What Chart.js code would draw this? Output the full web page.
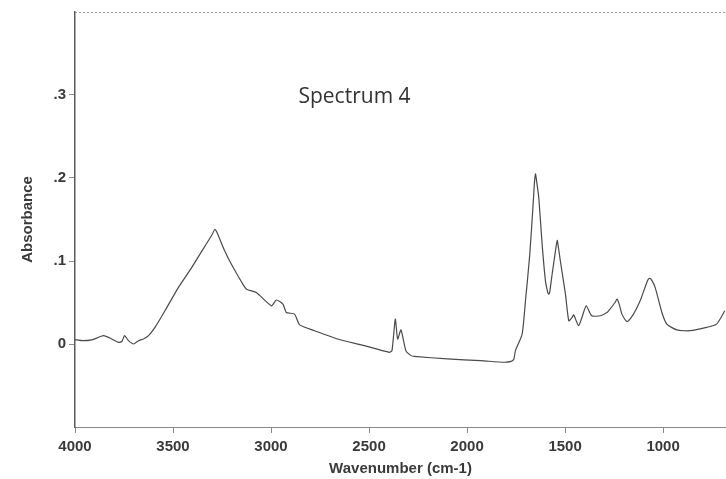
<!DOCTYPE html>
<html>
<head>
<meta charset="utf-8">
<script src="https://cdn.jsdelivr.net/npm/chart.js@4/dist/chart.umd.min.js"></script>
<style>
  html, body { margin: 0; padding: 0; background: #ffffff; overflow: hidden; }
  #wrap { width: 726px; height: 479px; }
</style>
</head>
<body>
<div id="wrap"><canvas id="c" width="726" height="479"></canvas></div>
<script>
// IR absorbance spectrum, wavenumber in cm-1
const wavenumbers = [
  4000, 3990, 3964, 3914, 3854, 3812, 3778, 3761, 3747, 3727, 3702, 3676, 3651, 3625,
  3592, 3541, 3473, 3405, 3337, 3300, 3287, 3275, 3236, 3202, 3151, 3125, 3075, 2998, 2973, 2939,
  2922, 2880, 2854, 2778, 2659, 2524, 2397, 2383, 2366, 2354, 2337, 2312, 2286, 2269,
  2100, 1930, 1812, 1775, 1761, 1753, 1719, 1702, 1680, 1662, 1656, 1651, 1645, 1634, 1617, 1600, 1588, 1583, 1578,
  1566, 1546, 1540, 1535, 1524, 1498, 1481, 1464, 1456, 1431, 1414, 1392, 1364, 1320, 1286, 1278,
  1245, 1235, 1225, 1210, 1184, 1151, 1117, 1080, 1069, 1058, 1040, 1006, 981, 930, 863, 778, 727, 685
];
const absorbance = [
  0.005, 0.005, 0.004, 0.005, 0.010, 0.006, 0.002, 0.003, 0.010, 0.004, 0.000, 0.004, 0.006, 0.010,
  0.020, 0.040, 0.068, 0.092, 0.118, 0.132, 0.138, 0.134, 0.112, 0.096, 0.075, 0.066, 0.062, 0.046, 0.053, 0.048,
  0.038, 0.036, 0.023, 0.016, 0.006, -0.002, -0.010, -0.008, 0.030, 0.006, 0.017, -0.008, -0.014, -0.015,
  -0.018, -0.020, -0.022, -0.021, -0.018, -0.008, 0.012, 0.052, 0.108, 0.172, 0.195, 0.205, 0.196, 0.176, 0.120, 0.076, 0.062, 0.060, 0.063,
  0.084, 0.117, 0.125, 0.118, 0.100, 0.060, 0.028, 0.032, 0.035, 0.022, 0.032, 0.046, 0.034, 0.034, 0.038, 0.040,
  0.050, 0.054, 0.049, 0.036, 0.027, 0.036, 0.052, 0.076, 0.079, 0.077, 0.068, 0.038, 0.024, 0.017, 0.016, 0.020, 0.024, 0.040
];
const xTickValues = [4000, 3500, 3000, 2500, 2000, 1500, 1000];
const yTickValues = [0, 0.1, 0.2, 0.3];
const spectrumLabel = 'Spectrum 4';

const points = wavenumbers.map((w, i) => ({ x: w, y: absorbance[i] }));

const ink = '#3a3a3a';
const axisFont = { family: '"Liberation Sans", Arial, sans-serif', size: 15, weight: 'bold' };

// frame line along the top and the in-plot label
const decorations = {
  id: 'decorations',
  afterDraw(chart) {
    const { ctx, chartArea, scales } = chart;
    ctx.save();
    ctx.strokeStyle = '#9a9a9a';
    ctx.lineWidth = 1;
    ctx.setLineDash([2, 2]);
    ctx.beginPath();
    ctx.moveTo(chartArea.left, chartArea.top + 0.5);
    ctx.lineTo(chartArea.right, chartArea.top + 0.5);
    ctx.stroke();
    ctx.setLineDash([]);
    ctx.fillStyle = '#333333';
    ctx.font = '21px "Open Sans", "Liberation Sans", sans-serif';
    ctx.textAlign = 'left';
    ctx.textBaseline = 'middle';
    ctx.fillText(spectrumLabel, scales.x.getPixelForValue(2860), scales.y.getPixelForValue(0.298));
    ctx.restore();
  }
};

new Chart(document.getElementById('c'), {
  type: 'line',
  data: {
    datasets: [{
      data: points,
      borderColor: '#4a4a4a',
      borderWidth: 1.2,
      pointRadius: 0,
      tension: 0.2,
      fill: false
    }]
  },
  options: {
    responsive: false,
    animation: false,
    events: [],
    layout: { padding: { top: 10, right: 0, bottom: 0, left: 0 } },
    plugins: { legend: { display: false }, tooltip: { enabled: false } },
    scales: {
      x: {
        type: 'linear',
        reverse: true,
        min: 679,
        max: 4000,
        afterBuildTicks(scale) { scale.ticks = xTickValues.map(v => ({ value: v })); },
        afterFit(scale) { scale.height = 52; },
        border: { display: true, color: '#8a8a8a', width: 1, dash: [2, 2] },
        grid: { drawOnChartArea: false, drawTicks: true, tickLength: 6, color: '#8a8a8a' },
        ticks: { color: ink, font: axisFont, padding: 5, maxRotation: 0, autoSkip: false,
                 callback: v => String(v) },
        title: { display: true, text: 'Wavenumber (cm-1)', color: ink, font: axisFont,
                 padding: { top: 0, bottom: 1 } }
      },
      y: {
        type: 'linear',
        min: -0.1,
        max: 0.4,
        afterBuildTicks(scale) { scale.ticks = yTickValues.map(v => ({ value: v })); },
        afterFit(scale) { scale.width = 75; },
        border: { display: true, color: '#5a5a5a', width: 1.5 },
        grid: { drawOnChartArea: false, drawTicks: true, tickLength: 6, color: '#8a8a8a' },
        ticks: { color: ink, font: axisFont, padding: 3,
                 callback: v => (Math.abs(v) < 1e-9 ? '0' : '.' + Math.round(v * 10)) },
        title: { display: true, text: 'Absorbance', color: ink, font: axisFont,
                 padding: { top: 19, bottom: 0 } }
      }
    }
  },
  plugins: [decorations]
});
</script>
</body>
</html>
